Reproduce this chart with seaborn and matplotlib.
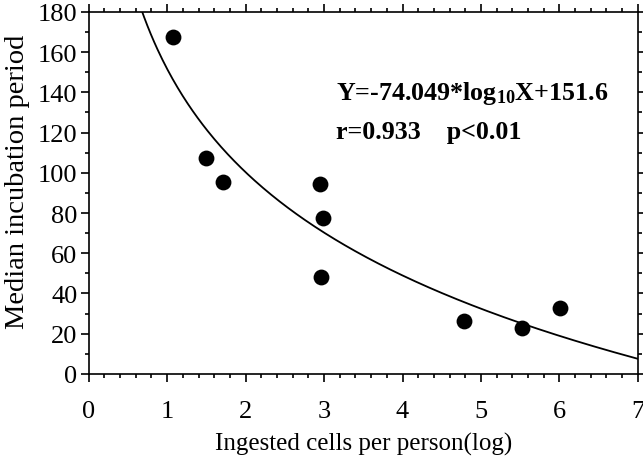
"""
Median incubation period vs ingested cells (log), with fitted curve
"""

import numpy as np
import pandas as pd
import matplotlib
matplotlib.use('Agg')
import matplotlib.pyplot as plt
import seaborn as sns
from matplotlib.ticker import MultipleLocator

# Data
ingested_log = [1.07, 1.49, 1.71, 2.95, 2.98, 2.96, 4.78, 5.52, 6.01]
median_incubation = [167.5, 107.5, 95.5, 94.5, 77.5, 48, 26.5, 23, 33]

# Fit coefficients printed on the chart
fit_slope = -74.049
fit_intercept = 151.6
fit_label = 'Y=-74.049*log$_{10}$X+151.6'
stats_label = 'r=0.933    p<0.01'

df = pd.DataFrame({'x': ingested_log, 'y': median_incubation})

# Fitted curve (the printed slope works as natural log of the axis value)
x_fit = np.linspace(0.62, 7, 300)
y_fit = fit_intercept + fit_slope * np.log(x_fit)
df_fit = pd.DataFrame({'x': x_fit, 'y': y_fit})

sns.set_style('ticks')
plt.rcParams['font.family'] = ['Liberation Serif', 'DejaVu Serif']
plt.rcParams['mathtext.fontset'] = 'custom'
plt.rcParams['mathtext.rm'] = 'Liberation Serif:bold'
plt.rcParams['mathtext.it'] = 'Liberation Serif:bold'
plt.rcParams['text.color'] = 'black'
plt.rcParams['axes.labelcolor'] = 'black'

fig, ax = plt.subplots(figsize=(6.43, 4.60), dpi=100)
fig.subplots_adjust(left=0.138, right=0.992, top=0.972, bottom=0.185)

sns.lineplot(data=df_fit, x='x', y='y', ax=ax, color='black', linewidth=1.3)
sns.scatterplot(data=df, x='x', y='y', ax=ax, color='black', s=130,
                edgecolor='black', linewidth=0, zorder=3)

ax.set_xlim(0, 7)
ax.set_ylim(0, 180)
ax.xaxis.set_major_locator(MultipleLocator(1))
ax.xaxis.set_minor_locator(MultipleLocator(0.2))
ax.yaxis.set_major_locator(MultipleLocator(20))
ax.yaxis.set_minor_locator(MultipleLocator(10))

ax.tick_params(which='both', direction='out', top=True, right=True,
               labeltop=False, labelright=False, colors='black', width=1.2)
ax.tick_params(which='major', length=6, labelsize=19)
ax.tick_params(which='minor', length=3)
ax.tick_params(axis='x', pad=13)
ax.tick_params(axis='y', pad=2)

for side in ['left', 'right', 'top', 'bottom']:
    ax.spines[side].set_visible(True)
    ax.spines[side].set_color('black')
    ax.spines[side].set_linewidth(1.2)

ax.set_xlabel('Ingested cells per person(log)', fontsize=18)
ax.set_ylabel('Median incubation period', fontsize=20.5)
ax.xaxis.set_label_coords(0.5, -0.192)
ax.yaxis.set_label_coords(-0.129, 0.533)
ax.xaxis.label.set_va('center')
ax.yaxis.label.set_va('center')

ax.text(0.45, 0.778, fit_label, transform=ax.transAxes, fontsize=18.7,
        fontweight='bold', ha='left', va='center')
ax.text(0.45, 0.669, stats_label, transform=ax.transAxes, fontsize=18.7,
        fontweight='bold', ha='left', va='center')

plt.savefig('out.png', dpi=100)
